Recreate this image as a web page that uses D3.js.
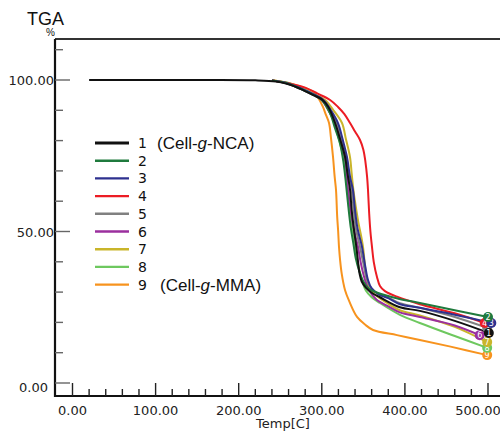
<!DOCTYPE html>
<html>
<head>
<meta charset="utf-8">
<script src="https://cdn.jsdelivr.net/npm/d3@7"></script>
<style>
  body { margin: 0; background: #fff; }
  svg { display: block; }
  .lab { font-family: "DejaVu Sans", sans-serif; fill: #222; }
</style>
</head>
<body>
<div id="chart"></div>
<script>
// temperature (C) vs weight (%)
var names = ["1", "2", "3", "4", "5", "6", "7", "8", "9"];
var notes = ["(Cell-g-NCA)", "", "", "", "", "", "", "", "(Cell-g-MMA)"];
var colors = ["#111111", "#1f7a3d", "#2e318f", "#ec1c24", "#808080", "#9b2f9e", "#c9b52a", "#6ec85f", "#f7931e"];

var s1 = [[20,100],[150,100],[220,99.9],[245,99.5],[260,98.6],[275,97],[290,95],[300,93.6],[308,91],[316,85.8],[322,80.5],[328,74.6],[331,69],[334,63.7],[336,57],[339,50],[342,44],[344,39],[345.5,36],[348,33.5],[353,31.5],[360,29.8],[370,28.3],[394,25],[418,23.8],[460,20.5],[501,16.5]];
var s2 = [[240,99.8],[260,98.7],[275,97],[290,95],[300,93.4],[310,89],[316,84],[322,79],[326,73],[329,66],[332,58],[335,51],[338,46],[341,41],[345,37],[350,33.5],[357,31],[367,29.8],[390,28],[418,26.4],[460,24],[500,21.8]];
var s3 = [[240,99.8],[260,98.8],[275,97.2],[290,95.3],[302,93.4],[311,90],[319.5,85.8],[325,80.5],[330.3,74.6],[334,68],[337.5,63.7],[340,57],[343,51],[348.4,44.9],[352,39],[355.6,34],[360,31.2],[368,29.3],[380,28],[394,26],[418,24.8],[460,22.5],[504,19.8]];
var s4 = [[240,99.8],[260,98.9],[280,97.5],[295,95.5],[310,93.4],[319.5,91.1],[327,88.8],[334,85.8],[340,83],[346,80.2],[350,77],[352.5,73],[354.5,68],[355.6,63.7],[357,56],[358.5,50],[360.4,44.9],[362.5,40],[366.4,35],[370,32],[376,30.3],[390.5,28.5],[418,26],[460,23],[496,19.8]];
var s5 = [[240,99.8],[260,98.8],[275,97.1],[290,95.2],[301,93.4],[310,89.5],[318,85.8],[324,80],[329,74.6],[333,68],[336,63.7],[338.5,57],[341,51],[346,44.9],[350,39.5],[354,34.5],[359,31.5],[368,29.5],[380,28.2],[394,26.3],[418,24.8],[460,21.8],[499,18.2]];
var s6 = [[240,99.8],[260,98.7],[275,97],[290,95],[300,93.4],[309,89.5],[316,85.8],[322,80.5],[327.9,74.6],[330,69],[331.5,63.7],[334,58.5],[337,53],[340,49],[343.6,44.9],[347,39.5],[352,34],[357,30.5],[366,27.5],[380,25.3],[394,23.3],[418,21.8],[460,19],[490,15.8]];
var s7 = [[240,99.8],[260,98.8],[275,97.2],[290,95.4],[304,93.4],[314,90],[324.3,85.8],[329,80.5],[333.9,74.6],[336,69],[338,63.7],[341,58],[344,53],[347,49],[349.6,44.9],[351.5,40],[353.5,35],[357,31.5],[364,29.2],[378,26.5],[394,24],[418,22.3],[460,18.5],[499,13.5]];
var s8 = [[240,99.8],[260,99],[275,97.4],[290,95.3],[300,93.4],[309,89.5],[315,85.8],[321,80],[326,74.6],[329,68],[331,63.7],[333.5,58],[336,53],[338,49],[340,44.9],[343,40],[348.4,34],[353,30.5],[360,28.3],[370,26.4],[394,22.5],[418,19.8],[460,15.5],[499,11.6]];
var s9 = [[240,100],[260,99],[275,97.8],[289.4,96.2],[296,94],[301.4,91.1],[305,88.5],[308.7,85.8],[311,81],[313.5,74.6],[315.5,68],[317.1,63.7],[318.5,55],[319.7,50],[320.7,44.9],[322,40.6],[324,36],[327.9,30.7],[333,27],[342.4,21.8],[352,19.3],[361.6,17.5],[390.5,15.8],[418,14.2],[455,12],[499,9.2]];
var series = [s1, s2, s3, s4, s5, s6, s7, s8, s9];

var xTicks = [0, 100, 200, 300, 400, 500];
var yTicks = [0, 50, 100];

var width = 500, height = 431;
var svg = d3.select("#chart").append("svg")
    .attr("width", width)
    .attr("height", height);

var x = d3.scaleLinear().domain([0, 500]).range([72.5, 488]);
var y = d3.scaleLinear().domain([0, 100]).range([383, 80]);
var frameL = 55, frameT = 39, frameB = 396;

// frame
svg.append("line").attr("x1", frameL).attr("x2", width).attr("y1", frameT).attr("y2", frameT)
    .attr("stroke", "#333").attr("stroke-width", 2.2);
svg.append("line").attr("x1", frameL).attr("x2", frameL).attr("y1", frameT).attr("y2", frameB + 1)
    .attr("stroke", "#111").attr("stroke-width", 2.2);
svg.append("line").attr("x1", frameL).attr("x2", width).attr("y1", frameB).attr("y2", frameB)
    .attr("stroke", "#111").attr("stroke-width", 2.2);

// x ticks, inward
var xMinor = d3.range(0, 501, 20);
svg.selectAll(".xt").data(xMinor).enter().append("line")
    .attr("x1", d => x(d)).attr("x2", d => x(d))
    .attr("y1", frameB).attr("y2", d => frameB - (d % 100 === 0 ? 13 : 7))
    .attr("stroke", "#222").attr("stroke-width", 1.4);
svg.selectAll(".xl").data(xTicks).enter().append("text")
    .attr("class", "lab")
    .attr("x", d => x(d) + (d === 500 ? -10 : 0)).attr("y", 415)
    .attr("text-anchor", "middle").attr("font-size", 13)
    .text(d => d.toFixed(2));
svg.append("text").attr("class", "lab").attr("x", 283).attr("y", 428)
    .attr("text-anchor", "middle").attr("font-size", 13).text("Temp[C]");

// y ticks, inward
var yMinor = d3.range(0, 111, 10);
svg.selectAll(".yt").data(yMinor).enter().append("line")
    .attr("x1", frameL).attr("x2", d => frameL + (d % 50 === 0 ? 15 : 8))
    .attr("y1", d => y(d)).attr("y2", d => y(d))
    .attr("stroke", "#666").attr("stroke-width", 1.4);
svg.selectAll(".yl").data(yTicks).enter().append("text")
    .attr("class", "lab")
    .attr("x", d => d === 0 ? 48 : 54).attr("y", d => y(d) + (d === 0 ? 9 : 5))
    .attr("text-anchor", "end").attr("font-size", 13)
    .text(d => d.toFixed(2));

svg.append("text").attr("x", 27).attr("y", 25)
    .attr("font-family", "Liberation Sans, Arial, sans-serif").attr("font-size", 18)
    .attr("fill", "#111").text("TGA");
svg.append("text").attr("x", 46).attr("y", 36)
    .attr("font-family", "Liberation Sans, Arial, sans-serif").attr("font-size", 10)
    .attr("fill", "#111").text("%");

// curves
var line = d3.line()
    .x(d => x(d[0]))
    .y(d => y(d[1]))
    .curve(d3.curveCatmullRom.alpha(0.5));

var order = d3.range(series.length).reverse();
svg.selectAll(".curve").data(order).enter().append("path")
    .attr("d", i => line(series[i]))
    .attr("fill", "none")
    .attr("stroke", i => colors[i])
    .attr("stroke-width", 2);

// end markers
var ends = svg.selectAll(".end").data(order).enter().append("g")
    .attr("transform", i => {
        var p = series[i][series[i].length - 1];
        return "translate(" + x(p[0]) + "," + y(p[1]) + ")";
    });
ends.append("circle").attr("r", 5).attr("fill", i => colors[i]);
ends.append("text").attr("text-anchor", "middle").attr("y", 3)
    .attr("font-family", "DejaVu Sans, sans-serif").attr("font-size", 8)
    .attr("fill", "#fff").text(i => names[i]);

// legend
var leg = svg.selectAll(".leg").data(names).enter().append("g")
    .attr("transform", (d, i) => "translate(95," + (143 + i * 17.7) + ")");
leg.append("line").attr("x1", 0).attr("x2", 34)
    .attr("stroke", (d, i) => colors[i]).attr("stroke-width", (d, i) => i === 0 ? 2.8 : 2.4);
leg.append("text").attr("x", 43).attr("y", 5)
    .attr("font-family", "DejaVu Sans, sans-serif").attr("font-size", 14)
    .attr("fill", "#111").text(d => d);
leg.append("text").attr("x", (d, i) => i === 0 ? 62 : 65).attr("y", 6)
    .attr("font-family", "Liberation Sans, Arial, sans-serif").attr("font-size", 17)
    .attr("fill", "#111")
    .each(function(d, i) {
        var t = notes[i];
        if (!t) return;
        var parts = t.split("g");
        var el = d3.select(this);
        el.append("tspan").text(parts[0]);
        el.append("tspan").attr("font-style", "italic").text("g");
        el.append("tspan").text(parts[1]);
    });
</script>
</body>
</html>
